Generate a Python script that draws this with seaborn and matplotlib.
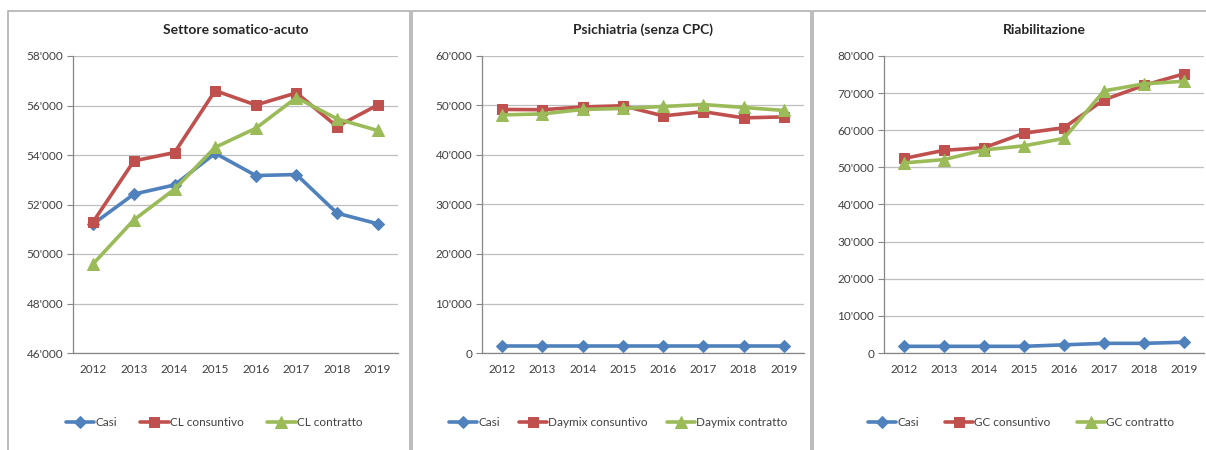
import seaborn as sns
import matplotlib.pyplot as plt
import matplotlib.ticker as mticker
from matplotlib.patches import Rectangle
import pandas as pd
import numpy as np

years = ['2012', '2013', '2014', '2015', '2016', '2017', '2018', '2019']

# Settore somatico-acuto
acuto_casi = [51220, 52420, 52790, 54070, 53170, 53210, 51650, 51220]
acuto_consuntivo = [51310, 53760, 54100, 56600, 56020, 56510, 55150, 56020]
acuto_contratto = [49610, 51380, 52620, 54310, 55080, 56320, 55460, 54990]

# Psichiatria (senza CPC)
psi_casi = [1400, 1400, 1400, 1400, 1400, 1400, 1400, 1400]
psi_consuntivo = [49200, 49150, 49700, 49950, 47900, 48750, 47500, 47700]
psi_contratto = [48100, 48300, 49200, 49400, 49800, 50200, 49600, 49000]

# Riabilitazione
ria_casi = [1800, 1800, 1800, 1800, 2200, 2600, 2600, 2900]
ria_consuntivo = [52400, 54600, 55300, 59200, 60700, 68200, 72100, 75200]
ria_contratto = [51200, 52100, 54700, 55800, 57800, 70600, 72500, 73200]

panels = [
    ('Settore somatico-acuto', ['Casi', 'CL consuntivo', 'CL contratto'],
     [acuto_casi, acuto_consuntivo, acuto_contratto], (46000, 58000, 2000)),
    ('Psichiatria (senza CPC)', ['Casi', 'Daymix consuntivo', 'Daymix contratto'],
     [psi_casi, psi_consuntivo, psi_contratto], (0, 60000, 10000)),
    ('Riabilitazione', ['Casi', 'GC consuntivo', 'GC contratto'],
     [ria_casi, ria_consuntivo, ria_contratto], (0, 80000, 10000)),
]

colors = ['#4F81BD', '#C0504D', '#9BBB59']
markers = ['D', 's', '^']
msizes = [6, 7, 8]

sns.set_style('white')
plt.rcParams['font.family'] = ['Lato', 'DejaVu Sans']

fig = plt.figure(figsize=(12.06, 4.5), dpi=100)

# panel frames (pixels)
frames = [(8, 410), (412, 811), (813, 1212)]
for x0, x1 in frames:
    fig.patches.append(Rectangle((x0 / 1206, -0.05), (x1 - x0) / 1206, (450 - 11) / 450 + 0.05,
                                 transform=fig.transFigure, fill=False,
                                 edgecolor='#b0b0b0', linewidth=1.2))

axes_px = [(73, 398), (482, 804), (884, 1204)]
legend_cx = [214, 618, 1021]
colsp = [2.0, 1.6, 2.2]
fmt = mticker.FuncFormatter(lambda v, p: f"{v:,.0f}".replace(',', "'"))

for (title, names, series, (ymin, ymax, step)), (l, r), cx, cs in zip(panels, axes_px, legend_cx, colsp):
    ax = fig.add_axes([l / 1206, (450 - 353) / 450, (r - l) / 1206, 297 / 450])
    for name, vals, c, m, ms in zip(names, series, colors, markers, msizes):
        df = pd.DataFrame({'anno': years, 'valore': vals})
        sns.lineplot(data=df, x='anno', y='valore', ax=ax, color=c, marker=m,
                     markersize=ms, markeredgecolor=c, linewidth=2.6, label=name)
    ax.set_xlim(-0.5, len(years) - 0.5)
    ax.set_ylim(ymin, ymax)
    ax.set_yticks(np.arange(ymin, ymax + 1, step))
    ax.yaxis.set_major_formatter(fmt)
    ax.set_xticks(range(len(years)))
    ax.set_xticklabels(years)
    ax.set_xticks(np.arange(-0.5, len(years), 1), minor=True)
    ax.tick_params(axis='x', which='major', length=0, pad=8, labelsize=8.5, colors='#404040')
    ax.tick_params(axis='x', which='minor', length=4, color='#868686', direction='out')
    ax.tick_params(axis='y', length=4, color='#868686', direction='out', pad=3,
                   labelsize=8.5, labelcolor='#404040', left=True)
    ax.grid(axis='y', color='#bfbfbf', linewidth=0.9)
    ax.set_axisbelow(True)
    for s in ['top', 'right']:
        ax.spines[s].set_visible(False)
    for s in ['left', 'bottom']:
        ax.spines[s].set_color('#868686')
        ax.spines[s].set_linewidth(0.9)
    ax.set_xlabel('')
    ax.set_ylabel('')
    ax.set_title(title, fontsize=10, fontweight='bold', color='#262626', pad=16)
    ax.legend(loc='center', bbox_to_anchor=(cx / 1206, (450 - 423) / 450),
              bbox_transform=fig.transFigure, ncol=3, frameon=False,
              fontsize=8.5, handlelength=2.4, columnspacing=cs, handletextpad=0.1,
              labelcolor='#404040')

fig.savefig('out.png', dpi=100)
